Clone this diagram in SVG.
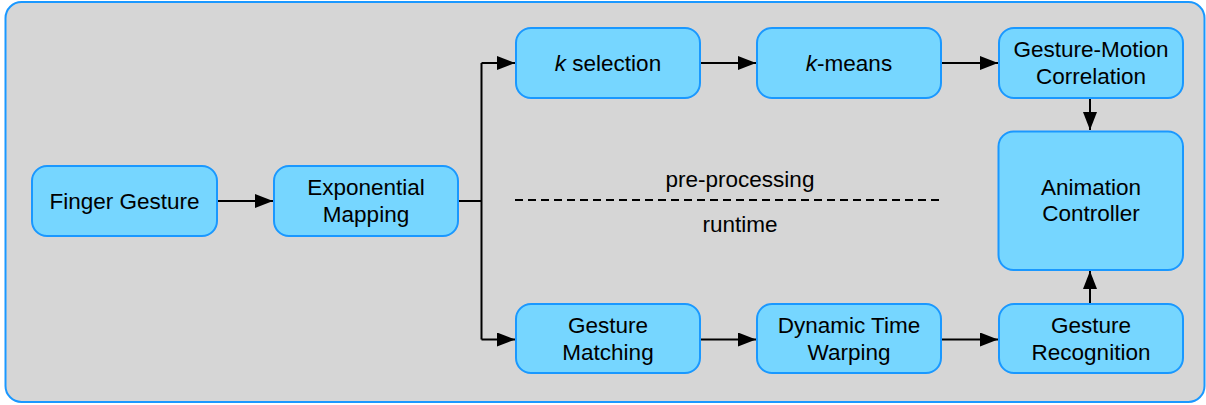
<svg xmlns="http://www.w3.org/2000/svg" width="1206" height="405" viewBox="0 0 1206 405">
  <style>
    .panel { fill: #d6d6d6; stroke: #1a98ff; stroke-width: 2; }
    .box { fill: #76d6ff; stroke: #1a98ff; stroke-width: 2; }
    .lbl { font-family: "Liberation Sans", Arial, Helvetica, sans-serif; font-size: 22.5px; fill: #000; text-anchor: middle; }
    .wire { fill: none; stroke: #000; stroke-width: 2; }
    .dash { fill: none; stroke: #000; stroke-width: 2; stroke-dasharray: 8 5; }
  </style>
  <defs>
    <marker id="arrow" markerUnits="userSpaceOnUse" markerWidth="19" markerHeight="15" refX="18" refY="7" orient="auto">
      <path d="M0,0 L18,7 L0,14 Z" fill="#000"/>
    </marker>
  </defs>

  <!-- background panel -->
  <rect class="panel" x="5.5" y="2" width="1199" height="400" rx="16" ry="16"/>

  <!-- connectors -->
  <g id="connectors">
    <line class="wire" x1="215" y1="201" x2="273" y2="201" marker-end="url(#arrow)"/>
    <polyline class="wire" points="458,201 481.5,201"/>
    <polyline class="wire" points="481.5,339.5 481.5,63"/>
    <polyline class="wire" points="481.5,63 515,63" marker-end="url(#arrow)"/>
    <polyline class="wire" points="481.5,339.5 515,339.5" marker-end="url(#arrow)"/>
    <line class="wire" x1="699" y1="63" x2="756" y2="63" marker-end="url(#arrow)"/>
    <line class="wire" x1="940" y1="63" x2="998" y2="63" marker-end="url(#arrow)"/>
    <line class="wire" x1="1090" y1="98" x2="1090" y2="130" marker-end="url(#arrow)"/>
    <line class="wire" x1="699" y1="339.5" x2="756" y2="339.5" marker-end="url(#arrow)"/>
    <line class="wire" x1="940" y1="339.5" x2="998" y2="339.5" marker-end="url(#arrow)"/>
    <line class="wire" x1="1090" y1="304" x2="1090" y2="271" marker-end="url(#arrow)"/>
    <line class="dash" x1="515" y1="200" x2="940" y2="200"/>
  </g>

  <!-- phase labels -->
  <g id="phases">
    <text class="lbl" x="740" y="187">pre-processing</text>
    <text class="lbl" x="740" y="232">runtime</text>
  </g>

  <g id="finger-gesture">
    <rect class="box" x="32" y="166" width="185" height="70" rx="15"/>
    <text class="lbl" x="124.5" y="209">Finger Gesture</text>
  </g>

  <g id="exponential-mapping">
    <rect class="box" x="274" y="166" width="184" height="70" rx="15"/>
    <text class="lbl" x="366" y="195">Exponential</text>
    <text class="lbl" x="366" y="221.5">Mapping</text>
  </g>

  <g id="k-selection">
    <rect class="box" x="516" y="28" width="184" height="70" rx="15"/>
    <text class="lbl" x="608" y="71"><tspan font-style="italic">k</tspan> selection</text>
  </g>

  <g id="k-means">
    <rect class="box" x="757" y="28" width="184" height="70" rx="15"/>
    <text class="lbl" x="849" y="71"><tspan font-style="italic">k</tspan>-means</text>
  </g>

  <g id="gesture-motion-correlation">
    <rect class="box" x="999" y="28" width="184" height="70" rx="15"/>
    <text class="lbl" x="1091" y="57">Gesture-Motion</text>
    <text class="lbl" x="1091" y="83.5">Correlation</text>
  </g>

  <g id="animation-controller">
    <rect class="box" x="998.5" y="131.5" width="184.5" height="138.5" rx="15"/>
    <text class="lbl" x="1091" y="195">Animation</text>
    <text class="lbl" x="1091" y="221">Controller</text>
  </g>

  <g id="gesture-matching">
    <rect class="box" x="516" y="304" width="184" height="69" rx="15"/>
    <text class="lbl" x="608" y="333">Gesture</text>
    <text class="lbl" x="608" y="359.5">Matching</text>
  </g>

  <g id="dynamic-time-warping">
    <rect class="box" x="757" y="304" width="184" height="69" rx="15"/>
    <text class="lbl" x="849" y="333">Dynamic Time</text>
    <text class="lbl" x="849" y="359.5">Warping</text>
  </g>

  <g id="gesture-recognition">
    <rect class="box" x="999" y="304" width="184" height="69" rx="15"/>
    <text class="lbl" x="1091" y="333">Gesture</text>
    <text class="lbl" x="1091" y="359.5">Recognition</text>
  </g>
</svg>
